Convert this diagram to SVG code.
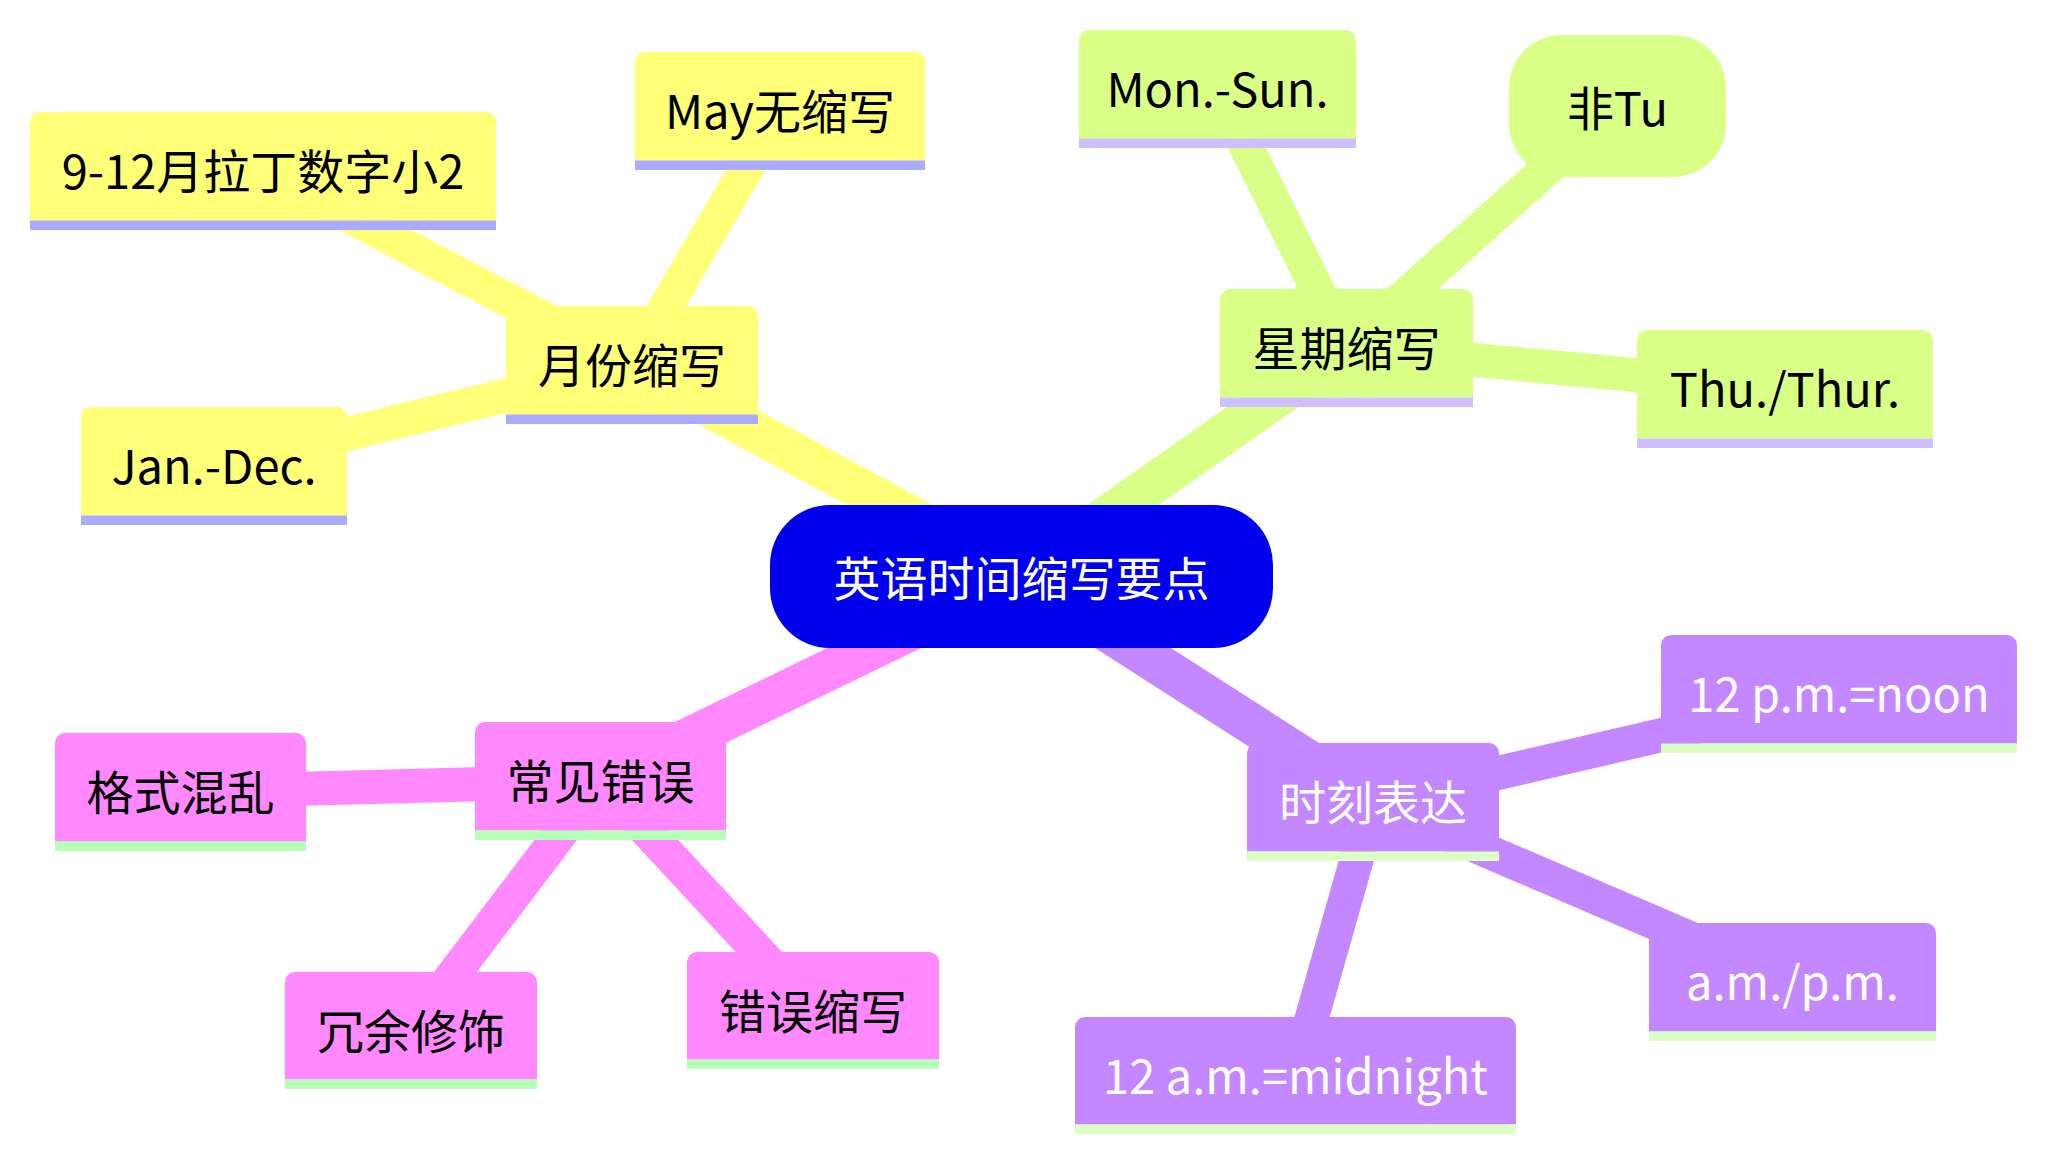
<svg xmlns="http://www.w3.org/2000/svg" width="2047" height="1159" viewBox="0 0 2047 1159">
<style>
text{font-family:"Noto Sans CJK SC","Noto Sans",sans-serif;font-size:47px;text-anchor:middle}
.e0{stroke-width:41;fill:none;stroke-linecap:butt}
.e1{stroke-width:34;fill:none;stroke-linecap:butt}
.s0 .box,.s0f{fill:#ffff78}.s0 .bar{fill:#aaaaff}.s0 text{fill:#000}
.s1 .box{fill:#d9ff86}.s1 .bar{fill:#d0bfff}.s1 text{fill:#000}
.s2 .box{fill:#ff88ff}.s2 .bar{fill:#b6ffb6}.s2 text{fill:#000}
.s3 .box{fill:#c387ff}.s3 .bar{fill:#ddffc3}.s3 text{fill:#fff}
.c0{stroke:#ffff78}.c1{stroke:#d9ff86}.c2{stroke:#ff88ff}.c3{stroke:#c387ff}
</style>
<rect width="2047" height="1159" fill="#fff"/>
<g id="connectors">
<line class="e0 c0" x1="1021.5" y1="576.5" x2="632" y2="365"/>
<line class="e0 c1" x1="1021.5" y1="576.5" x2="1346.5" y2="348"/>
<line class="e0 c2" x1="1021.5" y1="576.5" x2="600.5" y2="781"/>
<line class="e0 c3" x1="1021.5" y1="576.5" x2="1373" y2="802"/>
<line class="e1 c0" x1="632" y1="365" x2="263" y2="171"/>
<line class="e1 c0" x1="632" y1="365" x2="780" y2="111"/>
<line class="e1 c0" x1="632" y1="365" x2="214" y2="466"/>
<line class="e1 c1" x1="1346.5" y1="348" x2="1217.5" y2="89"/>
<line class="e1 c1" x1="1346.5" y1="348" x2="1617.5" y2="106"/>
<line class="e1 c1" x1="1346.5" y1="348" x2="1785" y2="389"/>
<line class="e1 c2" x1="600.5" y1="781" x2="180.5" y2="792"/>
<line class="e1 c2" x1="600.5" y1="781" x2="411" y2="1030.5"/>
<line class="e1 c2" x1="600.5" y1="781" x2="813" y2="1010.5"/>
<line class="e1 c3" x1="1373" y1="802" x2="1839" y2="694"/>
<line class="e1 c3" x1="1373" y1="802" x2="1792.5" y2="982"/>
<line class="e1 c3" x1="1373" y1="802" x2="1295.5" y2="1075.5"/>
</g>
<g id="n-month" class="s0">
<path class="box" d="M506 414.5V316A10 10 0 0 1 516 306H748A10 10 0 0 1 758 316V414.5Z"/>
<rect class="bar" x="506" y="414.5" width="252" height="9.5"/>
<text x="632" y="383">月份缩写</text>
</g>
<g id="n-sep-dec" class="s0">
<path class="box" d="M30 220.5V122A10 10 0 0 1 40 112H486A10 10 0 0 1 496 122V220.5Z"/>
<rect class="bar" x="30" y="220.5" width="466" height="9.5"/>
<text x="263" y="189">9-12月拉丁数字小2</text>
</g>
<g id="n-may" class="s0">
<path class="box" d="M635 160.5V62A10 10 0 0 1 645 52H915A10 10 0 0 1 925 62V160.5Z"/>
<rect class="bar" x="635" y="160.5" width="290" height="9.5"/>
<text x="780" y="129">May无缩写</text>
</g>
<g id="n-jan" class="s0">
<path class="box" d="M81 515.5V417A10 10 0 0 1 91 407H337A10 10 0 0 1 347 417V515.5Z"/>
<rect class="bar" x="81" y="515.5" width="266" height="9.5"/>
<text x="214" y="484">Jan.-Dec.</text>
</g>
<g id="n-week" class="s1">
<path class="box" d="M1220 397.5V299A10 10 0 0 1 1230 289H1463A10 10 0 0 1 1473 299V397.5Z"/>
<rect class="bar" x="1220" y="397.5" width="253" height="9.5"/>
<text x="1346.5" y="366">星期缩写</text>
</g>
<g id="n-mon" class="s1">
<path class="box" d="M1079 138.5V40A10 10 0 0 1 1089 30H1346A10 10 0 0 1 1356 40V138.5Z"/>
<rect class="bar" x="1079" y="138.5" width="277" height="9.5"/>
<text x="1217.5" y="107">Mon.-Sun.</text>
</g>
<g id="n-tu" class="s1">
<rect class="box" x="1509" y="35" width="217" height="142" rx="53" ry="53"/>
<text x="1617.5" y="126">非Tu</text>
</g>
<g id="n-thu" class="s1">
<path class="box" d="M1637 438.5V340A10 10 0 0 1 1647 330H1923A10 10 0 0 1 1933 340V438.5Z"/>
<rect class="bar" x="1637" y="438.5" width="296" height="9.5"/>
<text x="1785" y="407">Thu./Thur.</text>
</g>
<g id="n-errors" class="s2">
<path class="box" d="M475 830.5V732A10 10 0 0 1 485 722H716A10 10 0 0 1 726 732V830.5Z"/>
<rect class="bar" x="475" y="830.5" width="251" height="9.5"/>
<text x="600.5" y="799">常见错误</text>
</g>
<g id="n-format" class="s2">
<path class="box" d="M55 841.5V743A10 10 0 0 1 65 733H296A10 10 0 0 1 306 743V841.5Z"/>
<rect class="bar" x="55" y="841.5" width="251" height="9.5"/>
<text x="180.5" y="810">格式混乱</text>
</g>
<g id="n-redundant" class="s2">
<path class="box" d="M285 1079.5V982A10 10 0 0 1 295 972H527A10 10 0 0 1 537 982V1079.5Z"/>
<rect class="bar" x="285" y="1079.5" width="252" height="9.5"/>
<text x="411" y="1049">冗余修饰</text>
</g>
<g id="n-wrongabbr" class="s2">
<path class="box" d="M687 1059.5V962A10 10 0 0 1 697 952H929A10 10 0 0 1 939 962V1059.5Z"/>
<rect class="bar" x="687" y="1059.5" width="252" height="9.5"/>
<text x="813" y="1029">错误缩写</text>
</g>
<g id="n-time" class="s3">
<path class="box" d="M1247 851.5V753A10 10 0 0 1 1257 743H1489A10 10 0 0 1 1499 753V851.5Z"/>
<rect class="bar" x="1247" y="851.5" width="252" height="9.5"/>
<text x="1373" y="820">时刻表达</text>
</g>
<g id="n-noon" class="s3">
<path class="box" d="M1661 743.5V645A10 10 0 0 1 1671 635H2007A10 10 0 0 1 2017 645V743.5Z"/>
<rect class="bar" x="1661" y="743.5" width="356" height="9.5"/>
<text x="1839" y="712">12 p.m.=noon</text>
</g>
<g id="n-ampm" class="s3">
<path class="box" d="M1649 1031.5V933A10 10 0 0 1 1659 923H1926A10 10 0 0 1 1936 933V1031.5Z"/>
<rect class="bar" x="1649" y="1031.5" width="287" height="9.5"/>
<text x="1792.5" y="1000">a.m./p.m.</text>
</g>
<g id="n-midnight" class="s3">
<path class="box" d="M1075 1124.5V1027A10 10 0 0 1 1085 1017H1506A10 10 0 0 1 1516 1027V1124.5Z"/>
<rect class="bar" x="1075" y="1124.5" width="441" height="9.5"/>
<text x="1295.5" y="1094">12 a.m.=midnight</text>
</g>
<g id="n-root">
<rect x="770" y="505" width="503" height="143" rx="60" ry="60" fill="#0000ee"/>
<text x="1021.5" y="596" fill="#fff">英语时间缩写要点</text>
</g>
</svg>
